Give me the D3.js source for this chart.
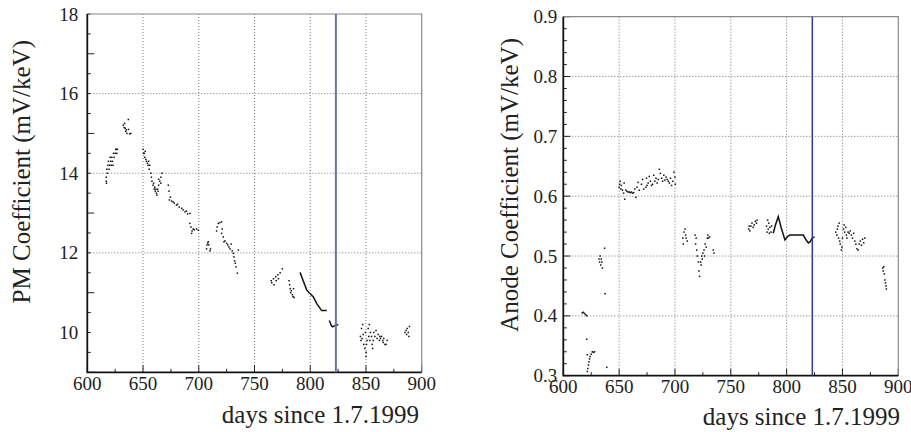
<!DOCTYPE html>
<html>
<head>
<meta charset="utf-8">
<script src="https://cdn.jsdelivr.net/npm/d3@7"></script>
<style>
  body { margin: 0; background: #fff; }
</style>
</head>
<body>
<script>
// Shared x axis
var xTicks = [600, 650, 700, 750, 800, 850, 900];
var markerDay = 823;

// PM coefficient (left panel), scattered points
var pmDays = [617, 617, 617.5, 618, 618.5, 619, 619.5, 620, 620.5, 621, 621.5, 622, 622.5, 623, 623.5, 624, 625, 625.5, 626, 626.5, 627, 617.2,
  632.3, 633, 633.5, 634, 634.5, 635, 635.5, 636.8, 637, 638, 639,
  650, 650.5, 651, 651.5, 652, 652.5, 653, 654, 654.5, 655, 655.5, 656, 657, 657.5, 658, 659, 659.5, 660, 660.5, 661, 661.5, 662, 662.5, 663, 663.5, 664, 665, 666, 667, 664, 666,
  672.7, 673.3, 673.6, 674.5, 675.6, 677, 678, 680, 681, 682.5, 684.7, 686, 687.7, 689, 690, 692.1, 692, 693, 693.6, 694, 695, 696, 698, 699.6,
  707, 707.5, 708, 708.5, 709, 710, 710.5,
  716, 716.5, 717.5, 719, 720.5, 720.5, 721, 722, 722.6, 723.5, 725, 726, 727, 728, 729, 730, 731, 731.5, 732.2, 732.8, 733.5, 734.6, 735.5,
  765, 765.5, 767, 767.5, 769, 769.5, 771, 771.5, 773, 775,
  781, 781.5, 782, 782.5, 783, 784, 784.5, 785, 785.5,
  845, 845.5, 846, 846.5, 847, 847.5, 848, 849, 849.5, 850, 850.2, 850.5, 851, 852, 852.5, 853, 853.5, 854, 855, 855.5, 856, 856.5, 857, 858, 859, 860, 861, 862, 862.5, 863, 864, 865, 865.5, 866, 867, 868, 869,
  885, 886, 886.5, 887, 888, 888.5, 889];
var pmValues = [13.8, 13.9, 14.1, 14.0, 14.2, 14.3, 14.1, 14.2, 14.4, 14.3, 14.2, 14.4, 14.3, 14.2, 14.5, 14.4, 14.5, 14.6, 14.6, 14.5, 14.6, 13.75,
  15.21, 15.15, 15.25, 15.13, 15.05, 15.09, 15.0, 15.35, 15.1, 14.99, 15.0,
  14.6, 14.5, 14.5, 14.4, 14.55, 14.35, 14.3, 14.25, 14.2, 14.3, 14.1, 14.2, 14.0, 13.9, 13.8, 13.7, 13.75, 13.6, 13.65, 13.55, 13.6, 13.5, 13.45, 13.6, 13.55, 13.7, 13.8, 13.9, 14.0, 13.85, 13.75,
  13.70, 13.55, 13.33, 13.4, 13.3, 13.28, 13.25, 13.2, 13.22, 13.15, 13.12, 13.08, 13.03, 13.05, 12.98, 12.99, 12.74, 12.65, 12.49, 12.55, 12.6, 12.58, 12.6, 12.57,
  12.1, 12.2, 12.25, 12.28, 12.2, 12.05, 12.1,
  12.55, 12.65, 12.74, 12.76, 12.78, 12.49, 12.6, 12.4, 12.28, 12.3, 12.24, 12.2, 12.15, 12.1, 12.22, 12.05, 11.99, 11.9, 11.8, 11.74, 11.65, 11.49, 12.07,
  11.3, 11.25, 11.35, 11.2, 11.4, 11.3, 11.45, 11.35, 11.5, 11.6,
  11.3, 11.2, 11.1, 11.0, 11.05, 10.95, 10.9, 11.1, 10.88,
  9.9, 9.8, 10.1, 9.85, 10.2, 9.95, 9.7, 9.6, 10.0, 9.4, 9.5, 9.7, 9.8, 10.1, 9.9, 10.2, 9.8, 10.0, 9.9, 9.7, 9.6, 9.8, 10.0, 9.9, 10.05, 9.85, 9.95, 9.8, 9.9, 9.85, 9.9, 9.8, 9.75, 9.85, 9.7, 9.7, 9.8,
  10.0, 10.05, 9.95, 10.1, 10.0, 9.9, 10.15];
// PM coefficient, dense stretch that reads as a line (NaN = gap)
var pmLineDays = [790.9, 793, 796.8, 799, 802.7, 806, 810.3, 814.8, 816, 817.1, 819, 820.1, 822, 825.2];
var pmLineValues = [11.51, 11.35, 11.07, 11.0, 10.9, 10.72, 10.55, 10.55, NaN, 10.30, 10.17, 10.14, 10.17, 10.2];
var pmTicks = [10, 12, 14, 16, 18];

// Anode coefficient (right panel), scattered points
var anodeDays = [617, 618, 619, 620, 621,
  621, 621.5, 621.5, 622, 622.5, 623, 623.5, 624, 625, 626, 627, 628, 637.4, 638.9,
  632, 632.5, 633, 633.5, 634, 634.5, 635, 637,
  650, 650.5, 651, 651.5, 652, 653, 654, 654.5, 655, 656, 657, 658, 659, 660, 661, 662, 663, 664, 665, 666, 667, 668, 670, 671, 672, 674, 674.5, 675, 676, 677, 678, 679, 680, 681, 682, 683, 684, 685, 686, 687, 688, 689, 690, 691, 692, 693, 694, 695, 696, 697, 698, 699, 700, 700.3,
  707, 707.5, 708, 709, 709.5, 710, 711,
  718, 718.5, 719, 719.5, 720, 721, 721.5, 722, 723, 723.5, 724, 724.5, 725, 726, 726.5, 727, 728, 729, 729.5, 730, 731, 734.3, 735,
  766, 766.5, 767, 768, 769, 770, 771, 772, 773, 773.5,
  782, 782.5, 783, 783.5, 784, 784.5, 785, 786, 786.5,
  844, 845, 845.5, 846, 846.5, 847, 847.5, 848, 849, 849.5, 850, 851, 851.5, 852, 853, 853.5, 854, 855, 856, 857, 858, 859, 860, 861, 862, 863, 864, 865, 866, 867, 868, 869, 870,
  886, 886.5, 887, 887.5, 888, 888.5, 889, 889.3];
var anodeValues = [0.405, 0.406, 0.404, 0.402, 0.400,
  0.361, 0.307, 0.335, 0.312, 0.318, 0.323, 0.328, 0.332, 0.336, 0.340, 0.339, 0.340, 0.437, 0.314,
  0.495, 0.49, 0.5, 0.485, 0.495, 0.49, 0.48, 0.513,
  0.615, 0.62, 0.625, 0.612, 0.618, 0.61, 0.605, 0.622, 0.595, 0.61, 0.608, 0.607, 0.607, 0.606, 0.607, 0.605, 0.606, 0.612, 0.598, 0.615, 0.623, 0.61, 0.62, 0.628, 0.612, 0.615, 0.63, 0.618, 0.622, 0.633, 0.625, 0.618, 0.62, 0.635, 0.625, 0.63, 0.622, 0.628, 0.645, 0.638, 0.63, 0.625, 0.635, 0.627, 0.632, 0.628, 0.625, 0.622, 0.63, 0.618, 0.625, 0.64, 0.632, 0.62,
  0.53, 0.52, 0.54, 0.545, 0.535, 0.53, 0.525,
  0.535, 0.52, 0.53, 0.51, 0.5, 0.49, 0.475, 0.466, 0.49, 0.485, 0.5, 0.495, 0.505, 0.51, 0.5, 0.52, 0.515, 0.53, 0.535, 0.53, 0.532, 0.51, 0.505,
  0.545, 0.55, 0.542, 0.55, 0.555, 0.548, 0.552, 0.558, 0.555, 0.56,
  0.55, 0.54, 0.56, 0.545, 0.555, 0.538, 0.548, 0.54, 0.55,
  0.54, 0.535, 0.545, 0.55, 0.53, 0.555, 0.525, 0.52, 0.51, 0.515, 0.53, 0.545, 0.552, 0.54, 0.548, 0.535, 0.53, 0.54, 0.538, 0.542, 0.535, 0.53, 0.538, 0.525, 0.52, 0.512, 0.51, 0.52, 0.525, 0.518, 0.528, 0.522, 0.53,
  0.48, 0.475, 0.482, 0.47, 0.46, 0.455, 0.45, 0.445];
// Anode coefficient, sparse stretch joined by a line
var anodeLineDays = [788, 790, 792.5, 795, 798.5, 801, 803, 808, 815, 817, 819.5, 821, 823, 825];
var anodeLineValues = [0.538, 0.552, 0.566, 0.548, 0.527, 0.533, 0.535, 0.535, 0.535, 0.528, 0.522, 0.524, 0.530, 0.532];
var anodeTicks = [0.3, 0.4, 0.5, 0.6, 0.7, 0.8, 0.9];

var width = 911, height = 432;
var serif = "'Liberation Serif', 'DejaVu Serif', serif";

var svg = d3.select("body").append("svg")
  .attr("width", width)
  .attr("height", height)
  .attr("font-family", serif);

/*
 * One ROOT-style panel: frame, dotted grid, inward ticks, points, marker line.
 */
function drawPanel(p) {
  var x = d3.scaleLinear().domain([600, 900]).range([p.left, p.right]);
  var y = d3.scaleLinear().domain(p.yDomain).range([p.bottom, p.top]);
  var g = svg.append("g");

  // grid
  g.selectAll(".gx").data(xTicks.slice(1, -1)).enter().append("line")
    .attr("x1", function(d) { return x(d); }).attr("x2", function(d) { return x(d); })
    .attr("y1", p.top).attr("y2", p.bottom)
    .attr("stroke", "#777").attr("stroke-width", 1).attr("stroke-dasharray", "1,2");
  g.selectAll(".gy").data(p.yTicks.slice(1, -1)).enter().append("line")
    .attr("x1", p.left).attr("x2", p.right)
    .attr("y1", function(d) { return y(d); }).attr("y2", function(d) { return y(d); })
    .attr("stroke", "#777").attr("stroke-width", 1).attr("stroke-dasharray", "1,2");

  // minor + major ticks, pointing inward
  var xMinor = d3.range(600, 900.1, 25);
  var yMinor = d3.range(p.yDomain[0], p.yDomain[1] + p.yMinor / 2, p.yMinor);
  g.selectAll(".tx").data(xMinor).enter().append("line")
    .attr("x1", function(d) { return x(d); }).attr("x2", function(d) { return x(d); })
    .attr("y1", p.bottom)
    .attr("y2", function(d) { return p.bottom - (d % 50 === 0 ? 7 : 3.5); })
    .attr("stroke", "#222").attr("stroke-width", 1);
  g.selectAll(".ty").data(yMinor).enter().append("line")
    .attr("x1", p.left)
    .attr("x2", function(d, i) { return p.left + (i % p.yMajorEvery === 0 ? 7 : 3.5); })
    .attr("y1", function(d) { return y(d); }).attr("y2", function(d) { return y(d); })
    .attr("stroke", "#222").attr("stroke-width", 1);

  // frame: thin grey top/right, heavier black left/bottom
  g.append("path")
    .attr("d", "M" + p.left + "," + p.top + "H" + p.right + "V" + p.bottom)
    .attr("fill", "none").attr("stroke", "#888").attr("stroke-width", 1.2);
  g.append("path")
    .attr("d", "M" + p.left + "," + p.top + "V" + p.bottom + "H" + p.right)
    .attr("fill", "none").attr("stroke", "#111").attr("stroke-width", 1.8);

  // tick labels
  g.selectAll(".lx").data(xTicks).enter().append("text")
    .attr("x", function(d) { return x(d); })
    .attr("y", p.xLabelY)
    .attr("text-anchor", "middle")
    .style("font-family", serif)
    .style("font-size", "19px")
    .style("fill", "#222")
    .text(function(d) { return d; });
  g.selectAll(".ly").data(p.yTicks).enter().append("text")
    .attr("x", p.left - p.yLabelGap)
    .attr("y", function(d) { return y(d) + 6.5; })
    .attr("text-anchor", "end")
    .style("font-family", serif)
    .style("font-size", "19px")
    .style("fill", "#222")
    .text(function(d) { return p.yFormat(d); });

  // axis titles
  g.append("text")
    .attr("x", p.xTitleX).attr("y", p.xTitleY)
    .attr("text-anchor", "end")
    .style("font-family", serif)
    .style("font-size", "25px")
    .style("fill", "#222")
    .text("days since 1.7.1999");
  g.append("text")
    .attr("transform", "translate(" + p.yTitleX + "," + p.yTitleY + ") rotate(-90)")
    .attr("text-anchor", "end")
    .style("font-family", serif)
    .style("font-size", "25px")
    .style("fill", "#222")
    .text(p.yTitle);

  // data points
  var pts = p.days.map(function(d, i) { return { d: d, v: p.values[i] }; });
  g.selectAll(".pt").data(pts).enter().append("rect")
    .attr("x", function(d) { return x(d.d) - 0.75; })
    .attr("y", function(d) { return y(d.v) - 0.75; })
    .attr("width", 1.5).attr("height", 1.5)
    .attr("fill", "#111");

  var linePts = p.lineDays.map(function(d, i) { return { d: d, v: p.lineValues[i] }; });
  var line = d3.line()
    .defined(function(d) { return !isNaN(d.v); })
    .x(function(d) { return x(d.d); })
    .y(function(d) { return y(d.v); });
  g.append("path")
    .attr("d", line(linePts))
    .attr("fill", "none").attr("stroke", "#111").attr("stroke-width", 1.5);

  // marker line
  g.append("line")
    .attr("x1", x(markerDay)).attr("x2", x(markerDay))
    .attr("y1", p.top).attr("y2", p.bottom)
    .attr("stroke", p.markerColor).attr("stroke-width", p.markerWidth);
}

drawPanel({
  left: 87.3, right: 421.7, top: 14, bottom: 372.3,
  yDomain: [9, 18], yTicks: pmTicks, yMinor: 0.5, yMajorEvery: 4,
  yFormat: function(d) { return d; },
  yLabelGap: 9, xLabelY: 390,
  xTitleX: 419, xTitleY: 423,
  yTitleX: 30, yTitleY: 40, yTitle: "PM Coefficient (mV/keV)",
  days: pmDays, values: pmValues, lineDays: pmLineDays, lineValues: pmLineValues,
  markerColor: "#6a70b8", markerWidth: 2
});

drawPanel({
  left: 563.3, right: 898.3, top: 16.7, bottom: 375.7,
  yDomain: [0.3, 0.9], yTicks: anodeTicks, yMinor: 0.02, yMajorEvery: 5,
  yFormat: d3.format(".1f"),
  yLabelGap: 6, xLabelY: 393,
  xTitleX: 900, xTitleY: 425,
  yTitleX: 518, yTitleY: 38, yTitle: "Anode Coefficient (mV/keV)",
  days: anodeDays, values: anodeValues, lineDays: anodeLineDays, lineValues: anodeLineValues,
  markerColor: "#2a3a9e", markerWidth: 1.5
});
</script>
</body>
</html>
